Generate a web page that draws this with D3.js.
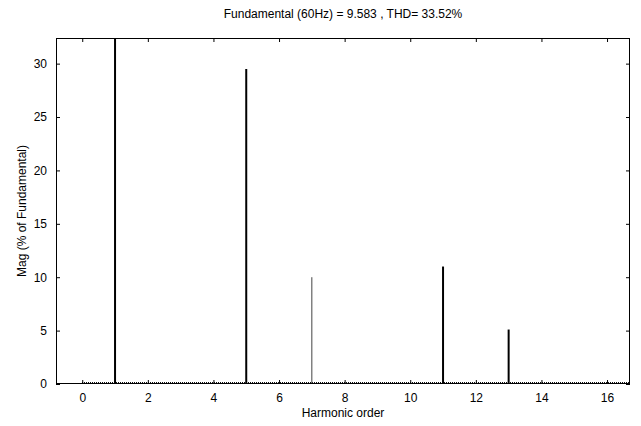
<!DOCTYPE html>
<html>
<head>
<meta charset="utf-8">
<script src="https://cdn.jsdelivr.net/npm/d3@7"></script>
<style>
  body { margin: 0; background: #fff; }
  svg text { font-family: "Liberation Sans Narrow", "Arial Narrow", "Liberation Sans", sans-serif; font-size: 12px; fill: #000; }
</style>
</head>
<body>
<div class="graphic"></div>
<script>
// harmonic spectrum, % of fundamental
var harmonics = [1, 5, 7, 11, 13]
var magnitudes = [100, 29.5, 10, 11, 5.1]
var xTicks = [0, 2, 4, 6, 8, 10, 12, 14, 16]
var yTicks = [0, 5, 10, 15, 20, 25, 30]
var title = 'Fundamental (60Hz) = 9.583 , THD= 33.52%'

var width = 641
var height = 426
var margin = { top: 38, right: 11, bottom: 42, left: 56 }

var svg = d3.select('.graphic').append('svg')
    .attr('width', width)
    .attr('height', height)

var x = d3.scaleLinear().domain([-0.8, 16.7]).range([margin.left, width - margin.right])
var y = d3.scaleLinear().domain([0, 32.4]).range([height - margin.bottom, margin.top])

var plot = svg.append('g')

svg.append('clipPath').attr('id', 'clip')
    .append('rect')
    .attr('x', margin.left).attr('y', margin.top)
    .attr('width', width - margin.left - margin.right)
    .attr('height', height - margin.top - margin.bottom)

// dotted floor of tiny components
plot.append('line')
    .attr('x1', x(0)).attr('x2', x.range()[1])
    .attr('y1', y(0) - 1.5).attr('y2', y(0) - 1.5)
    .attr('stroke', '#111')
    .attr('stroke-width', 1)
    .attr('stroke-dasharray', '1,1')
    .attr('shape-rendering', 'crispEdges')

var data = harmonics.map(function(h, i) { return { h: h, v: magnitudes[i] } })

plot.append('g').attr('clip-path', 'url(#clip)')
    .selectAll('line.stem').data(data).enter()
    .append('line')
    .attr('class', 'stem')
    .attr('x1', function(d) { return x(d.h) }).attr('x2', function(d) { return x(d.h) })
    .attr('y1', y(0)).attr('y2', function(d) { return y(d.v) })
    .attr('stroke', function(d) { return d.h === 7 ? '#444' : '#000' })
    .attr('stroke-width', function(d) { return d.h === 7 ? 1 : 2 })

// axes, matlab style ticks pointing inward on all four sides
var xb = d3.axisBottom(x).tickValues(xTicks).tickSizeInner(-4).tickSizeOuter(0).tickPadding(9)
var xt = d3.axisTop(x).tickValues(xTicks).tickSizeInner(-4).tickSizeOuter(0).tickFormat('')
var yl = d3.axisLeft(y).tickValues(yTicks).tickSizeInner(-4).tickSizeOuter(0).tickPadding(9)
var yr = d3.axisRight(y).tickValues(yTicks).tickSizeInner(-4).tickSizeOuter(0).tickFormat('')

function styleAxis(g) {
    g.select('.domain').remove()
    g.selectAll('line').attr('stroke', '#000')
    g.selectAll('text').attr('font-size', 12).attr('font-family', null)
}

svg.append('g').attr('transform', 'translate(0,' + y.range()[0] + ')').call(xb).call(styleAxis)
svg.append('g').attr('transform', 'translate(0,' + y.range()[1] + ')').call(xt).call(styleAxis)
svg.append('g').attr('transform', 'translate(' + x.range()[0] + ',0)').call(yl).call(styleAxis)
svg.append('g').attr('transform', 'translate(' + x.range()[1] + ',0)').call(yr).call(styleAxis)

svg.append('rect')
    .attr('x', margin.left + 0.5).attr('y', margin.top + 0.5)
    .attr('width', width - margin.left - margin.right - 1)
    .attr('height', height - margin.top - margin.bottom - 1)
    .attr('fill', 'none')
    .attr('stroke', '#000')

svg.append('text')
    .attr('x', (x.range()[0] + x.range()[1]) / 2)
    .attr('y', 18)
    .attr('text-anchor', 'middle')
    .text(title)

svg.append('text')
    .attr('x', (x.range()[0] + x.range()[1]) / 2)
    .attr('y', 417)
    .attr('text-anchor', 'middle')
    .text('Harmonic order')

svg.append('text')
    .attr('transform', 'translate(26,' + ((y.range()[0] + y.range()[1]) / 2) + ') rotate(-90)')
    .attr('text-anchor', 'middle')
    .text('Mag (% of Fundamental)')
</script>
</body>
</html>
